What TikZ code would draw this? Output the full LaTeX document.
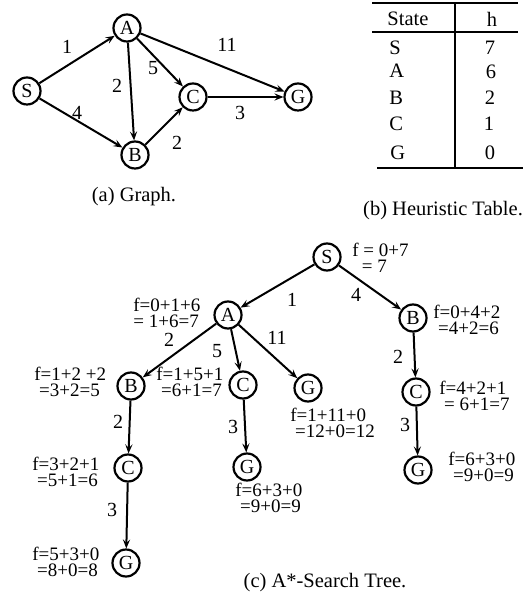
\documentclass[tikz,border=0pt]{standalone}
\usepackage{fontspec}
\setmainfont{Liberation Serif}
\usetikzlibrary{arrows.meta}

\begin{document}
\begin{tikzpicture}[
    x=0.5pt,y=-0.5pt,
    every node/.style={font=\fontsize{10}{12}\selectfont,inner sep=1pt},
    st/.style={circle,draw,line width=1.1pt,minimum size=13.5pt,inner sep=0pt},
    arr/.style={-{Stealth[length=4.5pt,width=3.6pt,inset=1.8pt]},line width=1pt},
    lbl/.style={font=\fontsize{10}{12}\selectfont},
    fval/.style={anchor=west,align=left,inner sep=0pt,
                 font=\fontsize{9.5}{7.8}\selectfont},
    rule/.style={line width=1pt},
    cell/.style={anchor=base,font=\fontsize{10.25}{12}\selectfont},
    cellL/.style={cell,anchor=base west},
    capt/.style={font=\fontsize{10.25}{12}\selectfont}
  ]
  \useasboundingbox (0,0) rectangle (530,597);
  % (a) Graph
  \node[st] (gS) at (27,91)   {S};
  \node[st] (gA) at (127,28)  {A};
  \node[st] (gB) at (135,155) {B};
  \node[st] (gC) at (193,97)  {C};
  \node[st] (gG) at (298,97)  {G};
  \draw[arr] (gS) -- (gA);
  \draw[arr] (gS) -- (gB);
  \draw[arr] (gA) -- (gB);
  \draw[arr] (gA) -- (gC);
  \draw[arr] (gA) -- (gG);
  \draw[arr] (gB) -- (gC);
  \draw[arr] (gC) -- (gG);
  \node[lbl] (gl1)  at (67,47)   {1};
  \node[lbl] (gl4)  at (77,113)  {4};
  \node[lbl] (gl2a) at (117,86)  {2};
  \node[lbl] (gl5)  at (153,68)  {5};
  \node[lbl] (gl2b) at (177,143) {2};
  \node[lbl] (gl3)  at (240,113) {3};
  \node[lbl] (gl11) at (227,45)  {11};
  \node[capt] (capA) at (134,197) {(a) Graph.};
  % (b) Heuristic table
  \draw[rule] (372,3) -- (518,3);
  \draw[rule] (372,32) -- (518,32);
  \draw[line width=1.4pt] (377,168) -- (523,168);
  \draw[rule] (455,3) -- (455,168);
  \node[cellL] (hS) at (385,26) {State};
  \node[cell]  (hh) at (492,27) {h};
  \node[cellL] (rS) at (387,55)  {S};
  \node[cellL] (rA) at (387,78)  {A};
  \node[cellL] (rB) at (387,105) {B};
  \node[cellL] (rC) at (387,131) {C};
  \node[cellL] (rG) at (388,160) {G};
  \node[cell] (vS) at (490,55)  {7};
  \node[cell] (vA) at (491,79)  {6};
  \node[cell] (vB) at (490,105) {2};
  \node[cell] (vC) at (489,131) {1};
  \node[cell] (vG) at (490,160) {0};
  \node[capt] (capB) at (443,211) {(b) Heuristic Table.};
  % (c) A*-search tree
  \node[st] (tS)  at (327,257) {S};
  \node[st] (tA)  at (228,315) {A};
  \node[st] (tB2) at (413,318) {B};
  \node[st] (tB)  at (131,386) {B};
  \node[st] (tC)  at (243,385) {C};
  \node[st] (tG1) at (308,388) {G};
  \node[st] (tC2) at (416,392) {C};
  \node[st] (tC3) at (128,468) {C};
  \node[st] (tG2) at (247,467) {G};
  \node[st] (tG3) at (418,470) {G};
  \node[st] (tG4) at (126,563) {G};
  \draw[arr] (tS) -- (tA);
  \draw[arr] (tS) -- (tB2);
  \draw[arr] (tA) -- (tB);
  \draw[arr] (tA) -- (tC);
  \draw[arr] (tA) -- (tG1);
  \draw[arr] (tB) -- (tC3);
  \draw[arr] (tC3) -- (tG4);
  \draw[arr] (tC) -- (tG2);
  \draw[arr] (tB2) -- (tC2);
  \draw[arr] (tC2) -- (tG3);
  \node[lbl] (tl1)  at (292,300) {1};
  \node[lbl] (tl4)  at (356,295) {4};
  \node[lbl] (tl2a) at (169,340) {2};
  \node[lbl] (tl5)  at (217,351) {5};
  \node[lbl] (tl11) at (277,338) {11};
  \node[lbl] (tl2b) at (398,357) {2};
  \node[lbl] (tl2c) at (118,422) {2};
  \node[lbl] (tl3a) at (112,510) {3};
  \node[lbl] (tl3b) at (233,427) {3};
  \node[lbl] (tl3c) at (405,425) {3};
  % f values
  \node[fval] (fS)  at (352,258) {f = 0+7\\\ \ = 7};
  \node[fval] (fA)  at (133,313) {f=0+1+6\\= 1+6=7};
  \node[fval] (fB2) at (433,320) {f=0+4+2\\\ =4+2=6};
  \node[fval] (fB)  at (34,382)  {f=1+2 +2\\\ =3+2=5};
  \node[fval] (fC)  at (156,382) {f=1+5+1\\\ =6+1=7};
  \node[fval] (fG1) at (290,423) {f=1+11+0\\\ =12+0=12};
  \node[fval] (fC2) at (439,396) {f=4+2+1\\\ = 6+1=7};
  \node[fval] (fC3) at (32,472)  {f=3+2+1\\\ =5+1=6};
  \node[fval] (fG3) at (448,467) {f=6+3+0\\\ =9+0=9};
  \node[fval] (fG2) at (235,498) {f=6+3+0\\\ =9+0=9};
  \node[fval] (fG4) at (32,562)  {f=5+3+0\\\ =8+0=8};
  \node[capt] (capC) at (325,583) {(c) A*-Search Tree.};
\end{tikzpicture}
\end{document}
